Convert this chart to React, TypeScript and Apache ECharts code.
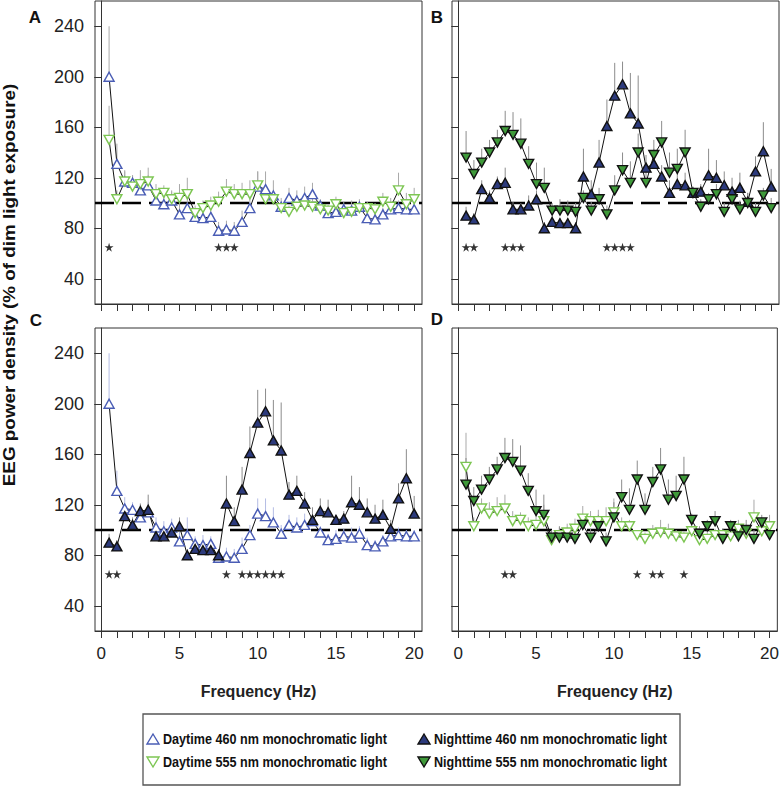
import React, { useEffect, useRef } from "react";
import * as echarts from "echarts";

// Frequency bins (Hz)
const freqs = [0.5, 1, 1.5, 2, 2.5, 3, 3.5, 4, 4.5, 5, 5.5, 6, 6.5, 7, 7.5, 8, 8.5, 9, 9.5, 10,
  10.5, 11, 11.5, 12, 12.5, 13, 13.5, 14, 14.5, 15, 15.5, 16, 16.5, 17, 17.5, 18, 18.5, 19, 19.5, 20];

// Mean EEG power density (% of dim light exposure)
const day460 = [200, 131, 117, 116, 110, 114, 102, 99, 102, 91, 96, 89, 88, 89, 78, 79, 78, 85, 96, 113,
  111, 106, 97, 104, 102, 104, 107, 98, 92, 93, 95, 94, 97, 88, 87, 91, 95, 96, 95, 95];
const day555 = [150, 103, 117, 113, 115, 117, 107, 108, 103, 104, 107, 92, 96, 98, 101, 109, 107, 107, 107, 114,
  103, 103, 96, 93, 97, 98, 97, 95, 94, 99, 92, 93, 96, 96, 95, 101, 97, 110, 99, 103];
const night460 = [90, 87, 111, 104, 115, 116, 95, 95, 98, 103, 80, 85, 84, 84, 80, 121, 107, 132, 161, 185,
  194, 171, 163, 128, 131, 121, 108, 115, 114, 108, 109, 122, 120, 114, 109, 112, 101, 125, 141, 113];
const night555 = [136, 123, 132, 140, 148, 157, 154, 147, 131, 115, 112, 94, 94, 94, 93, 104, 94, 103, 91, 110,
  126, 116, 140, 116, 138, 148, 124, 127, 140, 108, 97, 103, 107, 93, 103, 95, 100, 93, 106, 96];

// Upper end of error bars
const day460Top = [240, 147, 126, 122, 120, 122, 110, 107, 109, 100, 110, 95, 96, 95, 85, 86, 85, 94, 104, 125,
  125, 118, 104, 112, 110, 113, 116, 103, 97, 100, 101, 102, 103, 94, 92, 96, 101, 102, 100, 100];
const day555Top = [177, 110, 125, 122, 126, 128, 115, 114, 110, 115, 120, 98, 102, 105, 109, 119, 115, 116, 118, 125,
  110, 108, 100, 98, 104, 108, 105, 100, 99, 105, 97, 99, 101, 101, 100, 108, 104, 124, 108, 112];
const night460Top = [97, 92, 118, 110, 121, 128, 101, 100, 106, 110, 85, 90, 88, 88, 85, 143, 118, 150, 182, 211,
  212, 203, 201, 138, 143, 130, 118, 125, 124, 112, 115, 143, 134, 125, 120, 124, 108, 137, 164, 127];
const night555Top = [157, 134, 143, 150, 158, 173, 172, 167, 145, 132, 128, 100, 103, 102, 100, 110, 101, 112, 98, 122,
  140, 133, 155, 129, 150, 165, 140, 143, 158, 113, 103, 108, 115, 100, 108, 102, 108, 100, 112, 104];

// Significance markers (Hz)
const starsA = [0.5, 7.5, 8, 8.5];
const starsB = [0.5, 1, 3, 3.5, 4, 9.5, 10, 10.5, 11];
const starsC = [0.5, 1, 8, 9, 9.5, 10, 10.5, 11, 11.5];
const starsD = [3, 3.5, 11.5, 12.5, 13, 14.5];
const starLevel = 65;
const refLevel = 100;

// Tick labels
const xTicks = [0, 1, 2, 3, 4, 5, 6, 7, 8, 9, 10, 11, 12, 13, 14, 15, 16, 17, 18, 19, 20];
const xTickLabels = [0, 5, 10, 15, 20];
const yTicks = [40, 80, 120, 160, 200, 240];

const panelLetters = ["A", "B", "C", "D"];
const legendLabels = [
  "Daytime 460 nm monochromatic light",
  "Daytime 555 nm monochromatic light",
  "Nighttime 460 nm monochromatic light",
  "Nighttime 555 nm monochromatic light",
];

const X_MIN = -0.4;
const X_MAX = 20.5;

const BLUE = "#4a5db5";
const GREEN = "#7dc653";
const NAVY = "#2c3a7c";
const DKGREEN = "#3f9a3a";
const SANS = "'Liberation Sans', Arial, sans-serif";

const STAR =
  "path://M50,0 L61,35 L98,35 L68,57 L79,91 L50,70 L21,91 L32,57 L2,35 L39,35 Z";

type Style = { fill: string; stroke: string; down: boolean; bar: string };
const sDay460: Style = { fill: "#ffffff", stroke: BLUE, down: false, bar: "#a9a9a9" };
const sDay555: Style = { fill: "#ffffff", stroke: GREEN, down: true, bar: "#a9a9a9" };
const sNight460: Style = { fill: NAVY, stroke: "#111111", down: false, bar: "#8c8c8c" };
const sNight555: Style = { fill: DKGREEN, stroke: "#111111", down: true, bar: "#8c8c8c" };

function errSeries(idx: number, vals: number[], tops: number[], color: string) {
  return {
    type: "custom",
    xAxisIndex: idx,
    yAxisIndex: idx,
    silent: true,
    z: 1,
    renderItem: (_p: any, api: any) => {
      const a = api.coord([api.value(0), api.value(1)]);
      const b = api.coord([api.value(0), api.value(2)]);
      return {
        type: "line",
        shape: { x1: a[0], y1: a[1], x2: b[0], y2: b[1] },
        style: { stroke: color, lineWidth: 1 },
      };
    },
    data: freqs.map((f, i) => [f, vals[i], tops[i]]),
  };
}

function lineSeries(idx: number, name: string, vals: number[], st: Style) {
  return {
    type: "line",
    name,
    xAxisIndex: idx,
    yAxisIndex: idx,
    z: 3,
    symbol: "triangle",
    symbolSize: [10, 9],
    symbolRotate: st.down ? 180 : 0,
    showAllSymbol: true,
    lineStyle: { color: "#111111", width: 1 },
    itemStyle: { color: st.fill, borderColor: st.stroke, borderWidth: 1.4 },
    emphasis: { disabled: true },
    data: freqs.map((f, i) => [f, vals[i]]),
  };
}

function refSeries(idx: number) {
  return {
    type: "line",
    xAxisIndex: idx,
    yAxisIndex: idx,
    z: 0,
    silent: true,
    symbol: "none",
    lineStyle: { color: "#000000", width: 2.6, type: [19, 8] },
    data: [[X_MIN, refLevel], [X_MAX, refLevel]],
  };
}

function starSeries(idx: number, stars: number[]) {
  return {
    type: "scatter",
    xAxisIndex: idx,
    yAxisIndex: idx,
    z: 4,
    silent: true,
    symbol: STAR,
    symbolSize: 9,
    itemStyle: { color: "#000000" },
    data: stars.map((f) => [f, starLevel]),
  };
}

const grids = [
  { left: 95, top: 1, width: 327, height: 303 },
  { left: 452, top: 1, width: 327, height: 303 },
  { left: 95, top: 328, width: 327, height: 303 },
  { left: 452, top: 328, width: 327, height: 303 },
];

function triPoints(cx: number, cy: number, down: boolean) {
  return down
    ? [[cx - 6, cy - 5], [cx + 6, cy - 5], [cx, cy + 5]]
    : [[cx, cy - 5], [cx + 6, cy + 5], [cx - 6, cy + 5]];
}

export default function App() {
  const ref = useRef<HTMLDivElement>(null);
  useEffect(() => {
    const chart = echarts.init(ref.current!, null, { renderer: "svg" });
    const xAxis = grids.map((_, i) => ({
      type: "value",
      gridIndex: i,
      min: X_MIN,
      max: X_MAX,
      axisLine: { show: true, lineStyle: { color: "#333333", width: 1 } },
      axisTick: { show: true, inside: false, length: 7, customValues: xTicks, lineStyle: { color: "#333333" } },
      axisLabel: {
        show: i >= 2,
        customValues: xTickLabels,
        fontSize: 17,
        margin: 14,
        color: "#222222",
        fontFamily: SANS,
      },
      splitLine: { show: false },
      name: i >= 2 ? "Frequency (Hz)" : "",
      nameLocation: "middle",
      nameGap: 52,
      nameTextStyle: { fontSize: 16, fontWeight: "bold", color: "#222222", fontFamily: SANS },
    }));
    const yAxis = grids.map((_, i) => ({
      type: "value",
      gridIndex: i,
      min: 20,
      max: 260,
      axisLine: { show: true, lineStyle: { color: "#333333", width: 1 } },
      axisTick: { show: true, inside: false, length: 7, customValues: yTicks, lineStyle: { color: "#333333" } },
      axisLabel: {
        show: i % 2 === 0,
        customValues: yTicks,
        fontSize: 18,
        margin: 11,
        color: "#222222",
        fontFamily: SANS,
      },
      splitLine: { show: false },
    }));

    const series: any[] = [
      // A
      refSeries(0),
      errSeries(0, day460, day460Top, sDay460.bar),
      errSeries(0, day555, day555Top, sDay555.bar),
      lineSeries(0, legendLabels[0], day460, sDay460),
      lineSeries(0, legendLabels[1], day555, sDay555),
      starSeries(0, starsA),
      // B
      refSeries(1),
      errSeries(1, night460, night460Top, sNight460.bar),
      errSeries(1, night555, night555Top, sNight555.bar),
      lineSeries(1, legendLabels[2], night460, sNight460),
      lineSeries(1, legendLabels[3], night555, sNight555),
      starSeries(1, starsB),
      // C
      refSeries(2),
      errSeries(2, day460, day460Top, "#b4bce4"),
      errSeries(2, night460, night460Top, sNight460.bar),
      lineSeries(2, legendLabels[0], day460, sDay460),
      lineSeries(2, legendLabels[2], night460, sNight460),
      starSeries(2, starsC),
      // D
      refSeries(3),
      errSeries(3, day555, day555Top, sDay555.bar),
      errSeries(3, night555, night555Top, sNight555.bar),
      lineSeries(3, legendLabels[1], day555, sDay555),
      lineSeries(3, legendLabels[3], night555, sNight555),
      starSeries(3, starsD),
    ];

    const letterPos = [[35, 17], [437, 17], [36, 320], [437, 319]];
    const legX1 = 153;
    const legX2 = 424;
    const legY1 = 739;
    const legY2 = 762;
    const legendStyles = [sDay460, sDay555, sNight460, sNight555];
    const legendPos = [[legX1, legY1], [legX1, legY2], [legX2, legY1], [legX2, legY2]];

    const graphic: any[] = [
      ...panelLetters.map((t, i) => ({
        type: "text",
        x: letterPos[i][0],
        y: letterPos[i][1],
        style: {
          text: t,
          fontSize: 17,
          fontWeight: "bold",
          fontFamily: SANS,
          fill: "#111111",
          align: "center",
          verticalAlign: "middle",
        },
      })),
      {
        type: "text",
        x: 10,
        y: 285,
        rotation: Math.PI / 2,
        scaleX: 1.18,
        style: {
          text: "EEG power density (% of dim light exposure)",
          fontSize: 16,
          fontWeight: "bold",
          fontFamily: SANS,
          fill: "#111111",
          align: "center",
          verticalAlign: "middle",
        },
      },
      {
        type: "rect",
        shape: { x: 143, y: 714, width: 537, height: 71 },
        style: { fill: "none", stroke: "#555555", lineWidth: 1.3 },
      },
      ...legendStyles.map((st, i) => ({
        type: "polygon",
        shape: { points: triPoints(legendPos[i][0], legendPos[i][1], st.down) },
        style: { fill: st.fill, stroke: st.stroke, lineWidth: 1.4 },
      })),
      ...legendLabels.map((t, i) => ({
        type: "text",
        x: legendPos[i][0] + 10,
        y: legendPos[i][1],
        scaleX: 0.84,
        style: {
          text: t,
          fontSize: 15,
          fontWeight: "bold",
          fontFamily: SANS,
          fill: "#111111",
          align: "left",
          verticalAlign: "middle",
        },
      })),
    ];

    chart.setOption({
      animation: false,
      backgroundColor: "#ffffff",
      grid: grids.map((g) => ({ ...g, show: true, borderColor: "#333333", borderWidth: 1, backgroundColor: "transparent" })),
      xAxis,
      yAxis,
      series,
      graphic,
    });
    return () => chart.dispose();
  }, []);
  return (
    <div
      ref={ref}
      style={{ position: "fixed", left: 0, top: 0, width: 782, height: 787, background: "#fff" }}
    />
  );
}
